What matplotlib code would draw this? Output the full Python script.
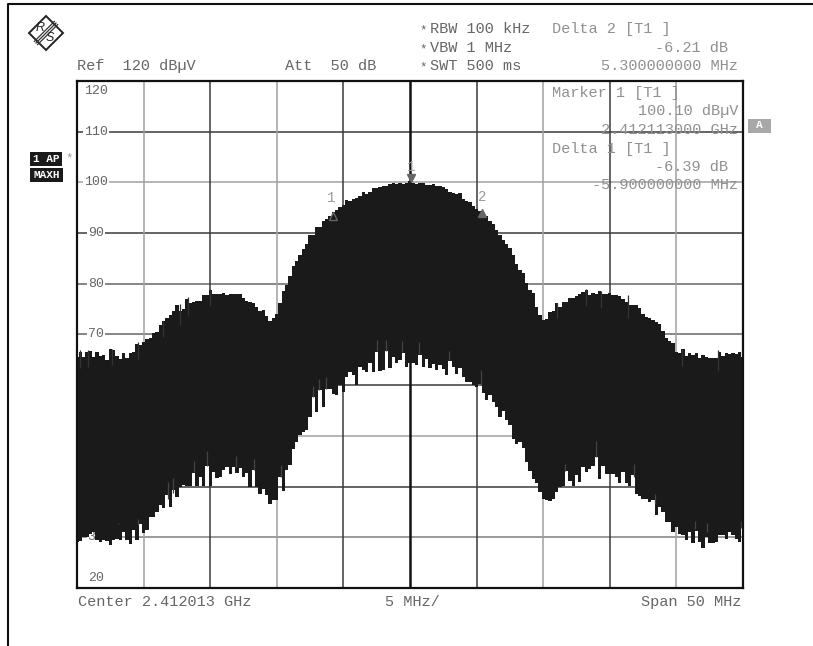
import matplotlib
matplotlib.use("Agg")
import numpy as np
import matplotlib.pyplot as plt
from matplotlib.patches import Polygon, Rectangle

plt.rcParams['font.family'] = ['Liberation Mono', 'DejaVu Sans Mono']

# trace envelope, MHz offset from center / dBuV
freq = np.arange(-25, 25.25, 0.25)
upper_db = [65.6, 66.6, 65.6, 66.6, 66.8, 65.6, 66.6, 65.8, 66.0, 65.0, 67.1, 67.0, 65.8, 65.1, 66.3, 65.4,
            66.3, 66.6, 68.2, 68.0, 68.6,
            69.1, 69.3, 70.3, 70.5, 71.9, 72.6, 73.2, 73.9, 74.6, 75.9, 74.6, 75.0, 77.0, 76.2, 76.5, 76.7,
            76.7, 77.7, 77.7, 78.8,
            78.0, 78.0, 77.9, 78.2, 77.7, 77.9, 77.9, 78.0, 78.0, 77.2, 76.7, 76.5, 76.2, 75.5, 74.6, 74.8,
            73.6, 72.6, 73.2, 74.1,
            76.2, 78.5, 79.8, 81.5, 83.5, 84.5, 85.6, 86.8, 87.8, 89.7, 89.7, 91.3, 91.2, 92.3, 92.7, 93.4,
            94.1, 94.6, 95.1, 95.6,
            96.5, 96.3, 96.7, 96.9, 97.4, 98.1, 97.8, 98.1, 98.9, 98.9, 99.1, 99.2, 99.2, 99.6, 99.8, 99.6,
            99.9, 99.6, 99.9, 100.2,
            99.9, 99.6, 99.8, 99.9, 99.5, 99.4, 99.6, 99.2, 99.2, 99.1, 98.7, 98.1, 97.9, 97.8, 97.9, 96.7,
            96.3, 96.1, 95.4, 94.8,
            94.3, 93.6, 93.3, 92.3, 91.7, 90.7, 89.7, 88.7, 87.9, 87.0, 85.7, 83.9,
            82.8, 82.1, 80.1, 78.7, 78.2, 75.5, 73.9, 72.9,
            73.0, 74.5, 74.7, 76.2, 75.5, 76.5, 76.5, 77.2, 77.2, 77.6, 78.0, 78.3, 78.8, 77.8, 78.2, 78.0,
            78.5, 78.0, 78.0, 78.2,
            77.8, 77.8, 77.5, 77.0, 76.5, 75.8, 75.8, 75.8, 75.2, 74.1, 73.5, 73.2, 72.9, 72.4, 72.1, 70.6,
            69.3, 68.8, 68.4, 66.6,
            66.3, 67.2, 65.8, 66.3, 66.0, 66.4, 65.3, 66.0, 65.5, 65.3, 65.4, 65.3, 66.6, 65.8, 66.3, 66.1,
            66.3, 66.2, 66.6, 65.6]
lower_db = [29.1, 29.2, 30.1, 30.1, 30.7, 31.0, 29.4, 29.1, 29.4, 29.2, 28.4, 29.4, 29.7, 29.4, 31.0, 29.5,
            28.7, 31.4, 29.4, 32.6, 30.9,
            31.4, 34.0, 34.0, 35.0, 36.3, 35.7, 38.3, 36.0, 39.3, 38.0, 39.9, 40.3, 40.1, 40.1, 42.6, 40.1,
            41.9, 40.1, 44.0, 40.1,
            42.9, 41.6, 41.9, 43.2, 43.9, 42.4, 43.9, 42.6, 43.6, 41.9, 42.6, 39.9, 43.2, 39.9, 38.6, 39.6,
            38.3, 36.6, 37.3, 37.4,
            41.8, 39.2, 43.2, 44.2, 47.5, 48.8, 50.1, 50.8, 51.1, 53.7, 57.7, 54.7, 59.1, 55.7, 59.3, 59.3,
            58.3, 58.0, 60.0, 58.7,
            61.7, 62.6, 62.0, 60.0, 63.6, 63.0, 62.6, 64.3, 62.6, 66.6, 62.8, 63.0, 66.7, 63.3, 65.6, 64.3,
            65.0, 66.3, 63.6, 64.4,
            64.4, 64.0, 65.9, 63.6, 65.1, 63.3, 64.2, 63.0, 64.0, 63.1, 62.0, 64.8, 63.6, 62.3, 63.3, 61.6,
            60.7, 60.7, 60.0, 59.7,
            60.3, 58.4, 57.0, 58.0, 56.7, 55.7, 53.7, 55.0, 53.1, 52.1, 49.4, 48.4,
            48.8, 47.7, 44.8, 43.1, 41.5, 40.8, 38.9, 37.6,
            37.3, 37.1, 37.6, 38.9, 40.0, 40.2, 43.1, 41.2, 40.2, 42.2, 40.9, 43.8, 42.8, 43.5, 44.1, 45.9,
            41.5, 44.1, 42.5, 42.5,
            42.5, 41.8, 40.8, 42.8, 40.8, 40.2, 42.2, 38.6, 38.2, 37.6, 37.6, 36.9, 37.3, 34.3, 35.9, 35.0,
            33.0, 33.0, 31.0, 32.0,
            30.7, 30.4, 29.4, 31.0, 28.8, 31.3, 29.1, 27.8, 30.1, 28.9, 28.8, 29.1, 30.4, 30.4, 29.7, 31.0,
            30.4, 29.7, 29.1, 31.8]

# single sweep spikes thinner than the envelope reading
upper_spike_f = [-24.8, -24.2, -22.4, -20.4, -18.55, -17.3, -16.7, -15.05, 11.0, 13.2, 14.35, 16.35, 20.4, 23.1]
upper_spike_db = [67.0, 67.0, 67.2, 68.5, 72.7, 76.0, 77.4, 79.0, 76.2, 79.0, 78.6, 77.8, 67.1, 67.0]
lower_spike_f = [-21.9, -20.4, -18.2, -17.8, -16.2, -15.25, -13.1, -11.7, -9.7, -7.3, -6.8, -6.3,
                 -2.45, -1.8, -0.6, 0.7, 2.9, 5.3, 11.6, 14.0, 16.8, 18.4, 21.4, 22.3, 24.85]
lower_spike_db = [32.8, 32.5, 37.5, 38.7, 42.8, 44.0, 43.8, 43.2, 41.8, 57.7, 59.1, 59.2,
                  66.7, 66.7, 66.5, 66.2, 65.0, 60.0, 43.1, 45.8, 41.9, 36.6, 31.6, 31.1, 31.9]

db_ticks = [110, 100, 90, 80, 70, 60, 50, 40, 30]
db_colors = ['#3a3a3a', '#a0a0a0', '#3a3a3a', '#666666', '#666666', '#3a3a3a', '#a0a0a0', '#3a3a3a', '#808080']
f_ticks = [-20, -15, -10, -5, 5, 10, 15, 20]
f_colors = ['#a0a0a0', '#3a3a3a', '#a0a0a0', '#3a3a3a', '#3a3a3a', '#a0a0a0', '#3a3a3a', '#a0a0a0']

marker_f = [0.1, -5.8, 5.4]
marker_db = [100.1, 93.7, 93.9]

W, H = 813, 646
fig = plt.figure(figsize=(W / 100, H / 100), dpi=100)
ax = fig.add_axes([77 / W, 1 - 588 / H, 666 / W, 507 / H])
ax.set_xlim(-25, 25)
ax.set_ylim(20, 120)
ax.set_xticks([])
ax.set_yticks([])
for s in ax.spines.values():
    s.set_linewidth(1.6)
    s.set_color('#111111')
    s.set_zorder(6)

for v, c in zip(db_ticks, db_colors):
    ax.axhline(v, color=c, lw=1.1, zorder=1)
for v, c in zip(f_ticks, f_colors):
    ax.axvline(v, color=c, lw=1.1, zorder=1)
ax.axvline(0, color='#111111', lw=1.8, zorder=1)

# dB labels sit on the grid lines
for v in [110, 100, 90, 80, 70, 30]:
    ax.text(-23.6, v, str(v), fontsize=9.5, color='#666666', ha='center', va='center', zorder=2,
            bbox=dict(facecolor='white', edgecolor='none', pad=0.8))
ax.text(-23.6, 118, '120', fontsize=9.5, color='#666666', ha='center', va='center', zorder=2)
ax.text(-23.6, 22, '20', fontsize=9.5, color='#666666', ha='center', va='center', zorder=2)

ax.fill_between(freq, lower_db, upper_db, step='mid', color='#1a1a1a', lw=0, zorder=3)
up_base = np.interp(upper_spike_f, freq, upper_db) - 3
low_base = np.interp(lower_spike_f, freq, lower_db) + 3
ax.vlines(upper_spike_f, up_base, upper_spike_db, color='#333333', lw=0.9, zorder=3)
ax.vlines(lower_spike_f, lower_spike_db, low_base, color='#444444', lw=0.9, zorder=3)

# markers
ax.plot(marker_f[0], marker_db[0] + 0.8, marker='v', ms=6, color='#666666', ls='none', zorder=4)
ax.plot(marker_f[1], marker_db[1] - 0.3, marker='^', ms=6, mfc='none', mec='#666666', ls='none', zorder=4)
ax.plot(marker_f[2], marker_db[2], marker='^', ms=6, color='#666666', ls='none', zorder=4)
ax.text(0.1, 103.0, '1', fontsize=10, color='#999999', ha='center', va='center', zorder=4)
ax.text(-5.9, 96.9, '1', fontsize=10, color='#999999', ha='center', va='center', zorder=4)
ax.text(5.4, 97.2, '2', fontsize=10, color='#999999', ha='center', va='center', zorder=4)

# page overlay in pixel coordinates
ov = fig.add_axes([0, 0, 1, 1], facecolor='none')
ov.set_xlim(0, W)
ov.set_ylim(H, 0)
ov.axis('off')
ov.plot([8, 8, W], [H, 4, 4], color='#111111', lw=1.5)

fs = 11
tc = '#666666'
lc = '#909090'
ov.text(77, 66, 'Ref  120 dB\u00b5V', fontsize=fs, color=tc, va='center')
ov.text(285, 66, 'Att  50 dB', fontsize=fs, color=tc, va='center')
for y, s in [(29, 'RBW 100 kHz'), (48, 'VBW 1 MHz'), (66, 'SWT 500 ms')]:
    ov.text(423, y + 1, '*', fontsize=9, color=tc, ha='center', va='center')
    ov.text(430, y, s, fontsize=fs, color=tc, va='center')
ov.text(78, 602, 'Center 2.412013 GHz', fontsize=fs, color=tc, va='center')
ov.text(385, 602, '5 MHz/', fontsize=fs, color=tc, va='center')
ov.text(741, 602, 'Span 50 MHz', fontsize=fs, color=tc, ha='right', va='center')

ov.text(552, 29, 'Delta 2 [T1 ]', fontsize=fs, color=lc, va='center')
ov.text(728, 48, '-6.21 dB', fontsize=fs, color=lc, ha='right', va='center')
ov.text(738, 66, '5.300000000 MHz', fontsize=fs, color=lc, ha='right', va='center')
ov.text(552, 93, 'Marker 1 [T1 ]', fontsize=fs, color=lc, va='center')
ov.text(738, 111, '100.10 dB\u00b5V', fontsize=fs, color=lc, ha='right', va='center')
ov.text(738, 130, '2.412113000 GHz', fontsize=fs, color=lc, ha='right', va='center')
ov.text(552, 149, 'Delta 1 [T1 ]', fontsize=fs, color=lc, va='center')
ov.text(728, 167, '-6.39 dB', fontsize=fs, color=lc, ha='right', va='center')
ov.text(738, 185, '-5.900000000 MHz', fontsize=fs, color=lc, ha='right', va='center')

# trace mode boxes
ov.add_patch(Rectangle((30, 152), 32, 14, facecolor='#1a1a1a', edgecolor='none'))
ov.add_patch(Rectangle((30, 168), 33, 14, facecolor='#1a1a1a', edgecolor='none'))
ov.text(46, 159, '1 AP', fontsize=8, color='white', weight='bold', ha='center', va='center')
ov.text(46.5, 175, 'MAXH', fontsize=8, color='white', weight='bold', ha='center', va='center')
ov.text(69, 158, '*', fontsize=9, color='#999999', ha='center', va='center')
ov.add_patch(Rectangle((748, 119), 23, 14, facecolor='#a8a8a8', edgecolor='none'))
ov.text(759, 125.5, 'A', fontsize=8, color='white', weight='bold', ha='center', va='center')

# R&S logo
ov.add_patch(Polygon([(29, 33), (46, 16), (63, 33), (46, 50)], closed=True, fc='white', ec='#222222', lw=1.4))
for d in (-1.6, 0, 1.6):
    ov.plot([36 + d, 56 + d], [43 + d, 23 + d], color='#333333', lw=0.9)
ov.text(40, 28, 'R', fontsize=9, color='#222222', style='italic', family='Liberation Sans', ha='center', va='center')
ov.text(50, 38, 'S', fontsize=9, color='#222222', style='italic', family='Liberation Sans', ha='center', va='center')

fig.savefig('out.png', dpi=100)
